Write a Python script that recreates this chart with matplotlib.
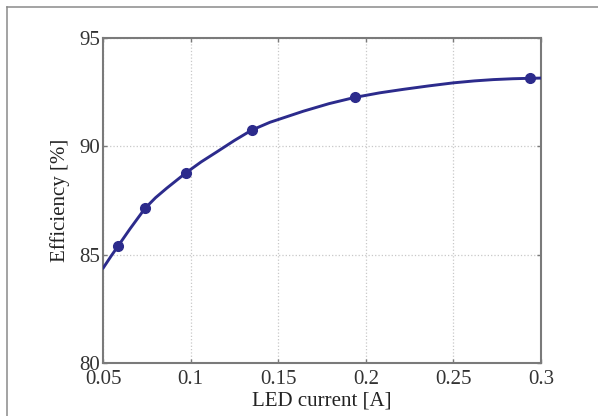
import matplotlib
matplotlib.use("Agg")
import matplotlib.pyplot as plt
from matplotlib.lines import Line2D

# Measured operating points
led_current = [0.0587, 0.0740, 0.0974, 0.1349, 0.1938, 0.2937]
efficiency = [85.41, 87.14, 88.78, 90.75, 92.26, 93.14]

# Smoothed efficiency curve across the current range
curve_current = [0.050, 0.0545, 0.0587, 0.0654, 0.0740, 0.0800, 0.0864, 0.0974,
                 0.1060, 0.1149, 0.1250, 0.1349, 0.1453, 0.1643, 0.1790, 0.1938,
                 0.2080, 0.2214, 0.2360, 0.2500, 0.2620, 0.2728, 0.2840, 0.2937,
                 0.300]
curve_efficiency = [84.37, 84.92, 85.41, 86.19, 87.14, 87.63, 88.07, 88.78,
                    89.28, 89.74, 90.27, 90.75, 91.11, 91.62, 91.97, 92.26,
                    92.47, 92.63, 92.79, 92.93, 93.02, 93.08, 93.12, 93.14,
                    93.15]

x_ticks = [0.05, 0.1, 0.15, 0.2, 0.25, 0.3]
x_tick_labels = ["0.05", "0.1", "0.15", "0.2", "0.25", "0.3"]
y_ticks = [80, 85, 90, 95]

plt.rcParams["font.family"] = ["Liberation Serif", "DejaVu Serif"]

fig = plt.figure(figsize=(5.98, 4.16), dpi=100)
ax = fig.add_axes([103 / 598, 53 / 416, 438 / 598, 325 / 416])

line_color = "#2c2b8c"
ax.plot(curve_current, curve_efficiency, color=line_color, lw=2.1,
        solid_capstyle="round", solid_joinstyle="round", zorder=3)
ax.plot(led_current, efficiency, ls="none", marker="o", ms=7,
        mfc=line_color, mec=line_color, zorder=4)

ax.set_xlim(0.05, 0.3)
ax.set_ylim(80, 95)
ax.set_xticks(x_ticks)
ax.set_xticklabels(x_tick_labels)
ax.set_yticks(y_ticks)

ax.grid(True, color="#c8c8c8", ls=":", lw=0.9)
ax.set_axisbelow(True)

for s in ax.spines.values():
    s.set_color("#7a7a7a")
    s.set_linewidth(1.5)

ax.tick_params(direction="in", length=3, width=1, color="#7a7a7a",
               top=True, right=True, labelsize=15, labelcolor="#333333")
ax.tick_params(axis="x", pad=5)
ax.tick_params(axis="y", pad=2)

ax.set_xlabel("LED current [A]", fontsize=15, color="#222222", labelpad=2)
ax.set_ylabel("Efficiency [%]", fontsize=15, color="#222222", labelpad=7)

# Partial page frame along the top and left edges
fig.add_artist(Line2D([7 / 598, 1.0], [1 - 7 / 416, 1 - 7 / 416],
                      transform=fig.transFigure, color="#8a8a8a", lw=1.1))
fig.add_artist(Line2D([7 / 598, 7 / 598], [0.0, 1 - 7 / 416],
                      transform=fig.transFigure, color="#8a8a8a", lw=1.1))

fig.savefig("out.png", dpi=100)
